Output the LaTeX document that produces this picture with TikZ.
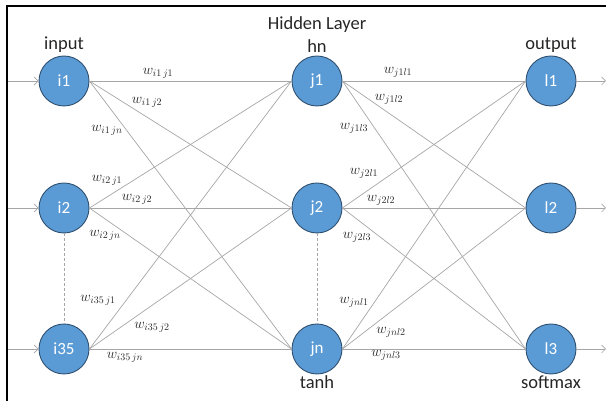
\documentclass[tikz,border=0pt]{standalone}
\usepackage{fontspec}
\setmainfont{Carlito}
\usetikzlibrary{arrows.meta}
\definecolor{nodeblue}{HTML}{5B9BD5}
\definecolor{nodeedge}{HTML}{2F4F6F}
\definecolor{wire}{HTML}{A6A6A6}
\begin{document}
\begin{tikzpicture}[x=1pt,y=1pt,
  neuron/.style={circle,draw=nodeedge,line width=0.9pt,fill=nodeblue,minimum size=50pt,inner sep=0pt,text=white,font=\fontsize{17}{19}\selectfont},
  link/.style={draw=wire,line width=0.7pt},
  dots/.style={draw=wire,line width=0.7pt,dashed,dash pattern=on 3pt off 2pt},
  io/.style={draw=wire,line width=0.7pt,-{Straight Barb[length=4pt,width=8pt]}},
  captext/.style={font=\fontsize{18.5}{21}\selectfont,text=black!85},
  wl/.style={font=\fontsize{14.5}{17}\selectfont,text=black!85,inner sep=0pt}]
\useasboundingbox (0,0) rectangle (606,401);
\draw[line width=2.2pt] (7,0) -- (7,395) -- (606,395);
% nodes
\node[neuron] (i1) at (64,320) {i1};
\node[neuron] (i2) at (64,193) {i2};
\node[neuron] (i35) at (64,52) {i35};
\node[neuron] (j1) at (317,320) {j1};
\node[neuron] (j2) at (317,193) {j2};
\node[neuron] (jn) at (317,52) {jn};
\node[neuron] (l1) at (551,320) {l1};
\node[neuron] (l2) at (551,193) {l2};
\node[neuron] (l3) at (551,52) {l3};
% captions
\node[captext] (capin) at (64,356) {input};
\node[captext] (caphl) at (317,376) {Hidden Layer};
\node[captext] (caphn) at (317,355) {hn};
\node[captext] (capout) at (551,356) {output};
\node[captext] (captanh) at (317,19) {tanh};
\node[captext] (capsm) at (551,19) {softmax};
% input/output arrows
\coordinate (a1) at (8,320);
\coordinate (a2) at (8,193);
\coordinate (a3) at (8,52);
\coordinate (b1) at (606,320);
\coordinate (b2) at (606,193);
\coordinate (b3) at (606,52);
\draw[io] (a1) -- (i1.west);
\draw[io] (a2) -- (i2.west);
\draw[io] (a3) -- (i35.west);
\draw[io] (l1.east) -- (b1);
\draw[io] (l2.east) -- (b2);
\draw[io] (l3.east) -- (b3);
% dashed
\draw[dots] (i2.south) -- (i35.north);
\draw[dots] (j2.south) -- (jn.north);
% connections
\foreach \a in {i1,i2,i35}{
  \foreach \b in {j1,j2,jn}{
    \draw[link] (\a.east) -- (\b.west);
  }}
\foreach \a in {j1,j2,jn}{
  \foreach \b in {l1,l2,l3}{
    \draw[link] (\a.east) -- (\b.west);
  }}
% weight labels
\node[wl] (w11) at (158,328) {$w_{i1\,j1}$};
\node[wl] (w12) at (147,299) {$w_{i1\,j2}$};
\node[wl] (w1n) at (107,271) {$w_{i1\,jn}$};
\node[wl] (w21) at (107,221) {$w_{i2\,j1}$};
\node[wl] (w22) at (137,202) {$w_{i2\,j2}$};
\node[wl] (w2n) at (105,166) {$w_{i2\,jn}$};
\node[wl] (w31) at (98,101) {$w_{i35\,j1}$};
\node[wl] (w32) at (152,74) {$w_{i35\,j2}$};
\node[wl] (w3n) at (125,44) {$w_{i35\,jn}$};
\node[wl] (v11) at (398,329) {$w_{j1l1}$};
\node[wl] (v12) at (389,302) {$w_{j1l2}$};
\node[wl] (v13) at (354,273) {$w_{j1l3}$};
\node[wl] (v21) at (364,228) {$w_{j2l1}$};
\node[wl] (v22) at (381,201) {$w_{j2l2}$};
\node[wl] (v23) at (357,164) {$w_{j2l3}$};
\node[wl] (vn1) at (354,99) {$w_{jnl1}$};
\node[wl] (vn2) at (391,69) {$w_{jnl2}$};
\node[wl] (vn3) at (386,46) {$w_{jnl3}$};
\end{tikzpicture}
\end{document}
